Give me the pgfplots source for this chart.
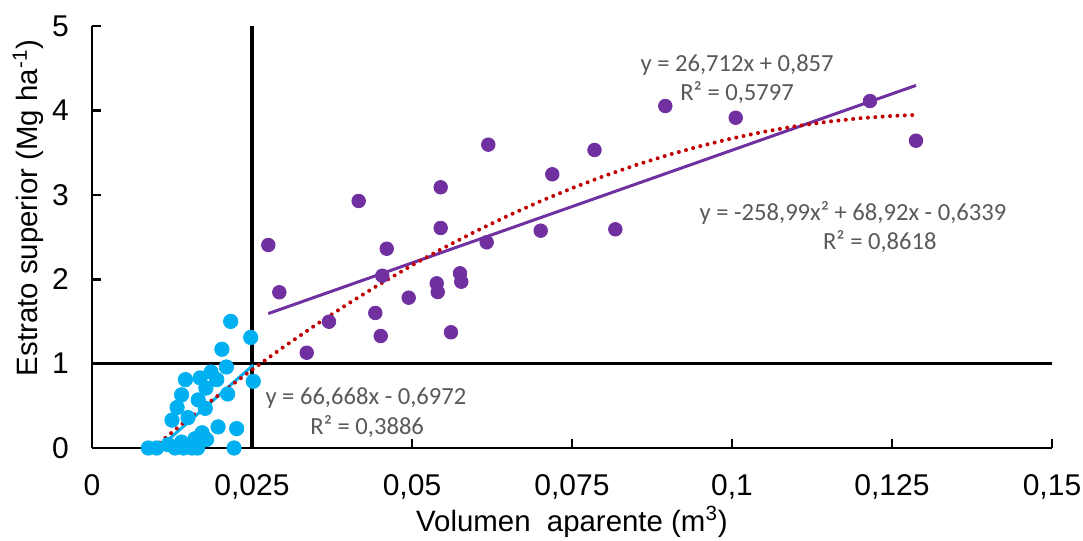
\documentclass[border=0pt]{standalone}
\usepackage{fontspec}
\setmainfont{Liberation Sans}
\newfontfamily\carlito{Carlito}
\usepackage{pgfplots}
\pgfplotsset{compat=1.18}
\definecolor{cpurple}{HTML}{7030A0}
\definecolor{ccyan}{HTML}{00B0F0}
\definecolor{cred}{HTML}{C00000}
\definecolor{cgray}{HTML}{595959}
\begin{document}
\begin{tikzpicture}
\begin{axis}[
  at={(0,0)}, anchor=south west,
  scale only axis, width=480pt, height=211pt,
  xmin=0, xmax=0.15, ymin=0, ymax=5,
  axis lines*=left,
  axis line style={black, line width=1.3pt},
  tick align=inside,
  major tick length=4.5pt,
  tick style={black, line width=1.3pt},
  xtick={0,0.025,0.05,0.075,0.1,0.125,0.15},
  xticklabels={0,{0,025},{0,05},{0,075},{0,1},{0,125},{0,15}},
  ytick={0,1,2,3,4,5},
  yticklabels={0,1,2,3,4,5},
  /pgf/number format/assume math mode=true,
  ticklabel style={font=\fontsize{15}{17}\selectfont},
  xticklabel style={yshift=-9.5pt},
  yticklabel style={xshift=-8pt},
  label style={font=\fontsize{14.7}{17}\selectfont},
  xlabel={Volumen \ aparente (m\textsuperscript{3})},
  ylabel={Estrato superior (Mg ha\textsuperscript{-1})},
  xlabel style={at={(axis description cs:0.5,0)}, anchor=center, yshift=-37pt},
  ylabel style={at={(axis description cs:0,0.569)}, anchor=center, yshift=32pt},
]
% reference lines
\addplot[black, line width=1.6pt] coordinates {(0.025,0) (0.025,5)};
\addplot[black, line width=1.6pt] coordinates {(0,1) (0.15,1)};
% cyan points
\addplot[only marks, mark=*, mark size=3.6pt, color=ccyan, mark options={fill=ccyan, draw=ccyan}] coordinates {
(0.02167,1.50) (0.0248,1.31) (0.0203,1.17) (0.0210,0.96) (0.0186,0.90)
(0.0169,0.83) (0.0146,0.81) (0.0252,0.79) (0.0195,0.81) (0.0178,0.71)
(0.0140,0.63) (0.0166,0.57) (0.0212,0.64) (0.0133,0.48) (0.0177,0.47)
(0.0125,0.33) (0.0150,0.36) (0.0197,0.25) (0.0226,0.23) (0.0172,0.18)
(0.0161,0.11) (0.0140,0.07) (0.0119,0.04) (0.0088,0.0) (0.0101,0.0)
(0.0143,0.0) (0.0130,0.0) (0.0156,0.0) (0.0222,0.0) (0.0179,0.10)
(0.0165,0.0) (0.0150,0.02)
};
% purple points
\addplot[only marks, mark=*, mark size=3.4pt, color=cpurple, mark options={fill=cpurple, draw=cpurple}] coordinates {
(0.02755,2.405) (0.02927,1.845) (0.03355,1.129) (0.03703,1.496) (0.04167,2.927)
(0.04427,1.600) (0.04511,1.327) (0.04536,2.041) (0.04605,2.361) (0.04948,1.781)
(0.05386,1.951) (0.05402,1.848) (0.05448,2.607) (0.05448,3.089) (0.05609,1.371)
(0.0575,2.070) (0.0577,1.970) (0.06192,3.594) (0.06167,2.437) (0.07011,2.575)
(0.07192,3.243) (0.07852,3.531) (0.08177,2.591) (0.08958,4.052) (0.10058,3.913)
(0.12156,4.111) (0.12875,3.641)
};
% cyan linear trend
\addplot[ccyan, line width=1.5pt] coordinates {(0.0088,-0.1105) (0.0252,0.9828)};
% purple linear trend
\addplot[cpurple, line width=1.5pt] coordinates {(0.02755,1.5929) (0.12875,4.2962)};
% polynomial trend (values of the fitted curve)
\addplot[cred, line width=2pt, line cap=round, dash pattern=on 0pt off 3.7pt] coordinates {
(0.0088,-0.0475) (0.0095,-0.0025) (0.015,0.3416) (0.02,0.6409) (0.025,0.9272)
(0.03,1.2006) (0.035,1.4610) (0.04,1.7085) (0.045,1.9430) (0.05,2.1646)
(0.055,2.3733) (0.06,2.5689) (0.065,2.7517) (0.07,2.9215) (0.075,3.0783)
(0.08,3.2222) (0.085,3.3531) (0.09,3.4711) (0.095,3.5761) (0.1,3.6682)
(0.105,3.7473) (0.11,3.8135) (0.115,3.8668) (0.12,3.9070) (0.125,3.9344)
(0.12875,3.9465)
};
% equation labels
\begin{scope}[every node/.style={font=\carlito\fontsize{12.3}{14}\selectfont, text=cgray, anchor=center, inner sep=0pt}]
\node at (axis cs:0.1008,4.538) {y = 26,712x + 0,857};
\node at (axis cs:0.1008,4.206) {R² = 0,5797};
\node at (axis cs:0.1189,2.784) {y = -258,99x² + 68,92x - 0,6339};
\node at (axis cs:0.1231,2.441) {R² = 0,8618};
\node at (axis cs:0.0428,0.592) {y = 66,668x - 0,6972};
\node at (axis cs:0.0430,0.249) {R² = 0,3886};
\end{scope}
\end{axis}
\pgfresetboundingbox
\path (-46pt,-46.5pt) rectangle (495.5pt,224pt);
\end{tikzpicture}
\end{document}
